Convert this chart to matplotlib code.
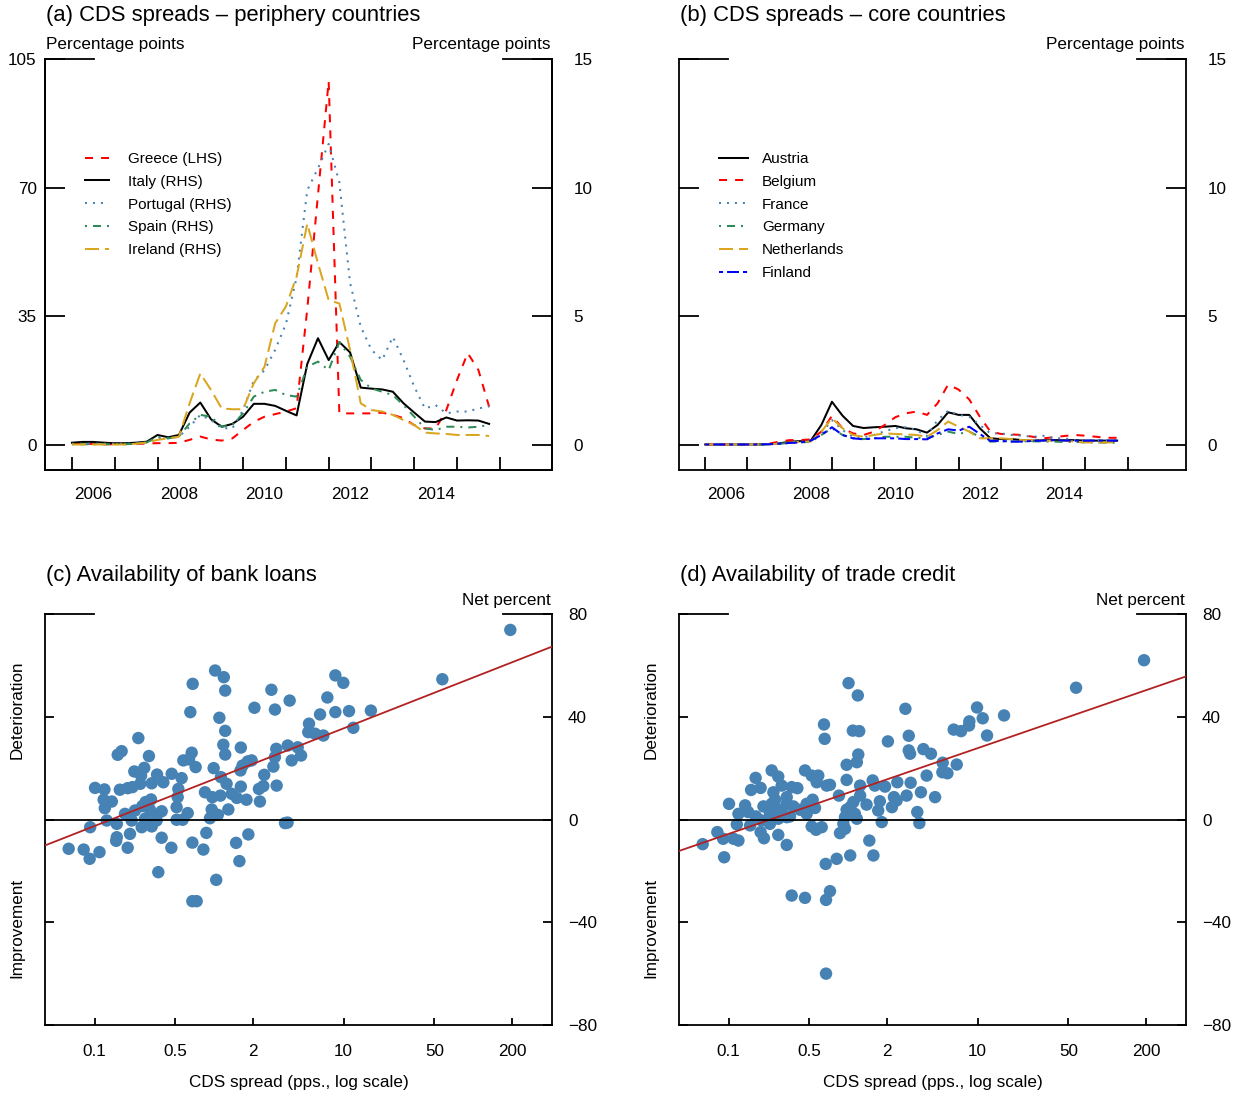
import numpy as np
import matplotlib
matplotlib.use('Agg')
import matplotlib.pyplot as plt
from matplotlib.ticker import NullLocator

plt.rcParams['font.family'] = ['Liberation Sans', 'DejaVu Sans']
plt.rcParams['lines.scale_dashes'] = False

# ---------------- data ----------------
quarters = np.arange(2006, 2016, 0.25)

# Panel (a) periphery (Greece on LHS, others on RHS), percentage points
greece = [0.3, 0.3, 0.3, 0.2, 0.2, 0.3, 0.3, 0.4, 0.5, 0.5, 0.6, 1.4, 2.3, 1.5, 1.2, 1.8,
          4.1, 6.3, 7.7, 8.4, 9.1, 10.0, 37.0, 68.0, 99.0, 8.6, 8.6, 8.6, 8.6, 8.8,
          8.2, 7.3, 5.4, 4.5, 4.5, 9.5, 17.7, 25.0, 20.4, 10.4]
italy = [0.09, 0.12, 0.12, 0.09, 0.07, 0.07, 0.09, 0.13, 0.39, 0.30, 0.39, 1.26, 1.65, 1.00,
         0.71, 0.82, 1.10, 1.60, 1.60, 1.52, 1.33, 1.15, 3.15, 4.15, 3.30, 4.00, 3.60, 2.23,
         2.19, 2.16, 2.07, 1.62, 1.26, 0.91, 0.89, 1.07, 0.95, 0.96, 0.95, 0.82]
portugal = [0.05, 0.05, 0.05, 0.05, 0.05, 0.05, 0.06, 0.10, 0.26, 0.26, 0.32, 0.71, 1.17, 0.97,
            0.65, 0.65, 1.36, 2.50, 2.90, 3.70, 4.70, 6.50, 9.90, 10.75, 11.70, 10.20, 6.30,
            4.60, 3.70, 3.30, 4.20, 3.30, 2.27, 1.42, 1.55, 1.23, 1.30, 1.30, 1.42, 1.50]
spain = [0.03, 0.03, 0.03, 0.03, 0.03, 0.03, 0.05, 0.10, 0.32, 0.26, 0.32, 0.84, 1.17, 1.10,
         0.71, 0.78, 1.23, 1.88, 2.07, 2.14, 1.94, 1.88, 3.04, 3.24, 2.91, 4.00, 3.43, 2.53,
         2.20, 2.07, 1.94, 1.55, 1.10, 0.65, 0.58, 0.71, 0.71, 0.68, 0.71, 0.78]
ireland = [0.02, 0.02, 0.02, 0.02, 0.02, 0.02, 0.05, 0.10, 0.20, 0.26, 0.32, 1.62, 2.78, 2.14,
           1.42, 1.39, 1.39, 2.40, 3.04, 4.73, 5.38, 6.54, 8.60, 7.06, 5.63, 5.50, 3.70, 1.62,
           1.36, 1.30, 1.17, 0.97, 0.78, 0.48, 0.45, 0.43, 0.39, 0.39, 0.39, 0.35]

# Panel (b) core countries, percentage points
austria = [0.02, 0.02, 0.02, 0.02, 0.02, 0.02, 0.03, 0.06, 0.13, 0.15, 0.17, 0.78, 1.68, 1.14,
           0.74, 0.66, 0.69, 0.71, 0.74, 0.65, 0.61, 0.48, 0.78, 1.27, 1.17, 1.17, 0.65, 0.26,
           0.23, 0.23, 0.19, 0.17, 0.19, 0.19, 0.19, 0.19, 0.17, 0.17, 0.17, 0.17]
belgium = [0.02, 0.02, 0.02, 0.02, 0.02, 0.03, 0.05, 0.13, 0.19, 0.19, 0.22, 0.52, 1.13, 0.65,
           0.45, 0.39, 0.52, 0.78, 1.08, 1.23, 1.30, 1.17, 1.62, 2.35, 2.15, 1.77, 1.10, 0.52,
           0.43, 0.41, 0.39, 0.32, 0.26, 0.30, 0.35, 0.39, 0.36, 0.32, 0.28, 0.28]
france = [0.02, 0.02, 0.02, 0.02, 0.02, 0.02, 0.03, 0.06, 0.10, 0.12, 0.15, 0.45, 0.97, 0.58,
          0.32, 0.30, 0.39, 0.54, 0.65, 0.69, 0.58, 0.35, 0.97, 1.33, 1.17, 1.10, 0.78, 0.45,
          0.45, 0.39, 0.36, 0.32, 0.36, 0.26, 0.26, 0.19, 0.17, 0.19, 0.17, 0.19]
germany = [0.02, 0.02, 0.02, 0.02, 0.02, 0.02, 0.03, 0.05, 0.08, 0.10, 0.12, 0.39, 0.65, 0.39,
           0.26, 0.23, 0.26, 0.32, 0.32, 0.32, 0.28, 0.26, 0.39, 0.52, 0.43, 0.52, 0.32, 0.13,
           0.14, 0.14, 0.14, 0.14, 0.14, 0.13, 0.12, 0.12, 0.10, 0.10, 0.09, 0.09]
netherlands = [0.02, 0.02, 0.02, 0.02, 0.02, 0.02, 0.03, 0.05, 0.10, 0.12, 0.14, 0.52, 1.04, 0.65,
               0.39, 0.32, 0.39, 0.45, 0.43, 0.41, 0.39, 0.32, 0.58, 0.91, 0.71, 0.52, 0.26, 0.26,
               0.26, 0.23, 0.19, 0.19, 0.17, 0.17, 0.17, 0.13, 0.10, 0.10, 0.10, 0.10]
finland = [0.02, 0.02, 0.02, 0.02, 0.02, 0.02, 0.03, 0.05, 0.08, 0.10, 0.17, 0.39, 0.69, 0.39,
           0.26, 0.22, 0.26, 0.26, 0.26, 0.23, 0.23, 0.22, 0.45, 0.61, 0.56, 0.71, 0.43, 0.16,
           0.16, 0.13, 0.13, 0.16, 0.17, 0.19, 0.17, 0.17, 0.17, 0.17, 0.17, 0.17]

# Panel (c) bank loans: CDS spread (pps) vs net percent
loans_cds = [1.02, 1.19, 0.685, 1.22, 2.77, 3.83, 2.05, 2.95, 0.657, 1.10,
             1.22, 0.261, 1.18, 1.61, 3.02, 3.70, 0.194, 0.181, 0.315, 0.673,
             1.22, 0.580, 0.642, 0.722, 0.994, 1.82, 1.95, 1.66, 1.60, 2.95,
             3.97, 2.87, 0.243, 0.290, 0.274, 0.364, 0.472, 0.563, 2.44, 0.331,
             0.407, 0.270, 1.13, 1.25, 0.121, 0.143, 0.188, 0.216, 0.235, 0.531,
             0.852, 1.61, 2.22, 2.40, 3.04, 0.141, 0.163, 0.144, 0.297, 0.327,
             0.525, 0.971, 1.12, 1.37, 1.50, 1.78, 2.26, 0.515, 0.280, 0.321,
             0.246, 0.206, 0.395, 0.361, 0.960, 1.07, 1.29, 0.627, 0.149, 0.178,
             0.232, 0.294, 0.361, 0.515, 0.573, 0.931, 0.111, 0.277, 0.331, 3.53,
             0.225, 0.873, 1.84, 0.178, 0.176, 0.395, 0.0758, 0.0989, 0.131, 0.110,
             0.216, 0.469, 0.681, 0.828, 1.48, 1.57, 0.372, 1.04, 0.681, 0.735,
             192.5, 57.6, 8.62, 9.93, 7.48, 6.57, 8.62, 10.99, 16.2, 5.40,
             5.33, 6.01, 6.97, 11.86, 4.42, 4.69, 3.69]
loans_net = [58.0, 55.4, 52.8, 50.2, 50.5, 46.3, 43.5, 42.8, 41.8, 39.6,
             34.5, 31.7, 29.1, 28.0, 27.5, 28.8, 26.6, 25.2, 24.7, 26.0,
             25.3, 23.0, 23.4, 20.4, 20.0, 22.6, 23.0, 21.0, 19.1, 24.3,
             23.0, 20.6, 18.7, 20.1, 17.1, 17.5, 17.8, 16.1, 17.4, 14.1,
             14.5, 13.9, 16.5, 13.9, 12.3, 11.7, 11.6, 12.2, 12.6, 11.9,
             10.6, 12.8, 11.9, 13.0, 13.2, 7.7, 7.0, 4.4, 6.8, 7.8,
             8.7, 8.7, 9.3, 10.0, 8.4, 7.7, 7.0, 4.8, 5.2, 3.8,
             3.5, 2.2, 3.2, 1.6, 3.9, 1.8, 3.9, 2.5, -0.4, -1.7,
             -0.4, 0.3, -0.4, -0.1, -0.1, 0.5, -3.0, -3.0, -2.7, -1.4,
             -5.6, -5.2, -5.8, -6.9, -8.3, -7.1, -11.4, -11.7, -12.7, -15.3,
             -11.0, -11.0, -9.0, -11.7, -9.1, -16.2, -20.5, -23.5, -31.8, -31.8,
             73.8, 54.6, 56.1, 53.2, 47.5, 40.9, 41.8, 42.2, 42.4, 37.3,
             34.0, 33.4, 32.7, 35.7, 28.1, 24.9, -1.2]
loans_fit = [15.7, 8.6]   # intercept, slope on ln(CDS spread)

# Panel (d) trade credit
trade_cds = [1.01, 1.19, 2.77, 0.653, 0.661, 1.09, 1.22, 2.03, 2.94, 1.20,
             1.17, 0.976, 2.94, 3.01, 3.81, 4.36, 0.258, 0.290, 0.466, 0.525,
             0.590, 0.574, 0.685, 0.726, 0.194, 0.179, 0.212, 0.266, 0.308, 0.368,
             0.407, 0.337, 0.274, 0.976, 1.24, 1.55, 1.61, 1.93, 2.40, 3.04,
             4.04, 0.852, 0.534, 0.480, 0.121, 0.161, 0.223, 0.258, 0.282, 0.337,
             0.379, 0.427, 0.557, 1.24, 1.10, 1.39, 1.76, 2.26, 2.83, 3.65,
             4.69, 2.18, 2.37, 0.143, 0.170, 0.195, 0.250, 0.308, 0.357, 0.480,
             0.976, 1.04, 0.948, 1.13, 1.71, 3.42, 0.139, 0.176, 0.216, 0.250,
             0.290, 0.337, 0.921, 1.17, 1.82, 3.55, 0.525, 0.567, 0.627, 0.868,
             0.948, 0.0983, 0.109, 0.131, 0.143, 0.212, 0.225, 0.290, 0.337, 0.0758,
             0.111, 1.46, 1.57, 0.818, 1.04, 0.673, 0.368, 0.466, 0.726, 0.677,
             0.677,
             191.5, 57.3, 9.88, 8.62, 8.57, 10.93, 15.96, 6.53, 7.44, 11.80,
             5.37, 6.89, 5.34, 5.84]
trade_net = [53.1, 48.3, 43.1, 37.0, 31.4, 34.6, 34.4, 30.4, 32.6, 25.3,
             22.3, 21.3, 26.9, 25.6, 27.4, 25.6, 19.1, 16.7, 19.1, 17.1,
             17.1, 14.5, 13.2, 13.5, 16.2, 11.5, 12.3, 10.6, 13.2, 12.6,
             12.2, 8.7, 7.7, 15.4, 13.2, 15.2, 13.2, 12.8, 14.5, 14.3,
             17.1, 9.3, 7.7, 6.1, 6.1, 5.5, 5.1, 6.1, 4.2, 6.1,
             5.1, 3.8, 4.5, 9.3, 6.8, 5.8, 7.1, 8.7, 9.3, 10.6,
             8.7, 4.8, 7.4, 2.2, 2.9, 1.2, 2.5, 3.2, 1.2, 2.2,
             3.8, 4.8, 0.9, 2.2, 3.5, 2.9, -1.9, -2.3, -0.4, -1.7,
             0.3, 0.9, -1.7, 0.3, -1.0, -1.4, -2.7, -4.0, -3.0, -5.3,
             -3.6, -4.9, -7.5, -7.5, -8.2, -4.9, -7.3, -6.0, -9.9, -9.6,
             -14.7, -8.2, -14.0, -15.3, -14.0, -17.3, -29.6, -30.5, -27.9, -31.3,
             -60.0,
             62.0, 51.3, 43.6, 38.2, 36.6, 39.4, 40.5, 35.0, 34.4, 32.7,
             22.1, 21.4, 18.4, 18.0]
trade_fit = [10.4, 7.55]

year_ticks = list(range(2006, 2017))
year_labels = ['2006', '2008', '2010', '2012', '2014']
log_ticks = [0.12, 0.5, 2, 10, 50, 200]
log_labels = ['0.1', '0.5', '2', '10', '50', '200']

# ---------------- styles ----------------
LW = 1.45
STY = {
    'solid': dict(linestyle='-'),
    'dashed': dict(linestyle=(0, (5.8, 5.8))),
    'dotted': dict(linestyle=(0, (1.44, 4.3))),
    'dotdash': dict(linestyle=(0, (1.44, 4.3, 5.8, 4.3))),
    'longdash': dict(linestyle=(0, (10.1, 4.3))),
    'twodash': dict(linestyle=(0, (2.9, 2.9, 8.6, 2.9))),
}
RED, BLUE, GREEN, GOLD, STEEL = '#FF0000', '#0000FF', '#2E8B57', '#DAA520', '#4682B4'
FS = 12.3

W, H = 1241, 1097
fig = plt.figure(figsize=(W / 100, H / 100), dpi=100)


def rect(l, t, r, b):
    return [l / W, 1 - b / H, (r - l) / W, (b - t) / H]


def frame(ax, lw=1.3):
    ax.spines['top'].set_visible(False)
    for s in ['left', 'right', 'bottom']:
        ax.spines[s].set_linewidth(lw)
    for xs in ([0, 0.096], [0.904, 1]):
        ax.plot(xs, [1, 1], transform=ax.transAxes, color='black', lw=lw,
                clip_on=False, solid_capstyle='projecting', zorder=5)


def time_axis(ax):
    ax.set_xlim(2005.37, 2017.22)
    ax.set_xticks(year_ticks)
    ax.set_xticklabels([])
    ax.set_xticks([int(y) + 0.5 for y in year_labels], minor=True)
    ax.set_xticklabels(year_labels, minor=True)
    ax.tick_params(axis='x', which='major', direction='in', length=9.4, width=1.3)
    ax.tick_params(axis='x', which='minor', length=0, pad=12, labelsize=FS)


LEG = dict(loc='upper left', bbox_to_anchor=(0.079, 0.774), frameon=False, fontsize=11,
           labelspacing=0.58, borderpad=0, borderaxespad=0)

# ---------------- panel (a) ----------------
axA = fig.add_axes(rect(45, 59, 552, 470))
axA2 = axA.twinx()
time_axis(axA)
axA.set_ylim(-6.8, 105)
axA2.set_ylim(-6.8 / 7, 15)
axA.set_yticks([0, 35, 70, 105])
axA2.set_yticks([0, 5, 10, 15])
axA.tick_params(axis='y', direction='in', length=14.5, width=1.3, labelsize=FS, pad=6)
axA2.tick_params(axis='y', direction='in', length=14.5, width=1.3, labelsize=FS, pad=15.5)
frame(axA)
axA2.spines['top'].set_visible(False)
for s in ['left', 'right', 'bottom']:
    axA2.spines[s].set_linewidth(1.3)

hA = []
hA += axA.plot(quarters, greece, color=RED, lw=LW, label='Greece (LHS)', **STY['dashed'])
hA += axA2.plot(quarters, italy, color='black', lw=LW, label='Italy (RHS)', **STY['solid'])
hA += axA2.plot(quarters, portugal, color=STEEL, lw=LW, label='Portugal (RHS)', **STY['dotted'])
hA += axA2.plot(quarters, spain, color=GREEN, lw=LW, label='Spain (RHS)', **STY['dotdash'])
hA += axA2.plot(quarters, ireland, color=GOLD, lw=LW, label='Ireland (RHS)', **STY['longdash'])
axA2.legend(handles=hA, handlelength=1.6, handletextpad=1.2, **LEG)

# ---------------- panel (b) ----------------
axB = fig.add_axes(rect(679, 59, 1186, 470))
time_axis(axB)
axB.set_xlim(2005.38, 2017.38)
axB.set_ylim(-6.8 / 7, 15)
axB.set_yticks([0, 5, 10, 15])
axB.tick_params(axis='y', direction='in', length=14.5, width=1.3, labelsize=FS, pad=15.5,
                left=True, right=True, labelleft=False, labelright=True)
frame(axB)
core = [('Austria', austria, 'black', 'solid'), ('Belgium', belgium, RED, 'dashed'),
        ('France', france, STEEL, 'dotted'), ('Germany', germany, GREEN, 'dotdash'),
        ('Netherlands', netherlands, GOLD, 'longdash'), ('Finland', finland, BLUE, 'twodash')]
for name, vals, col, st in core:
    axB.plot(quarters, vals, color=col, lw=LW, label=name, **STY[st])
axB.legend(handlelength=1.9, handletextpad=0.9, **LEG)

# ---------------- panels (c), (d) ----------------
def scatter_panel(ax, xs, ys, fit):
    ax.set_xscale('log')
    ax.set_xlim(np.exp(-3), np.exp(6))
    ax.set_ylim(-80, 80)
    ax.set_xticks(log_ticks)
    ax.set_xticklabels(log_labels)
    ax.xaxis.set_minor_locator(NullLocator())
    ax.set_yticks([-80, -40, 0, 40, 80])
    ax.set_yticklabels(['\u221280', '\u221240', '0', '40', '80'])
    ax.tick_params(axis='x', direction='in', length=5, width=1.3, labelsize=FS, pad=13.5)
    ax.tick_params(axis='y', direction='in', length=6.5, width=1.3, labelsize=FS, pad=11.5,
                   left=True, right=True, labelleft=False, labelright=True)
    frame(ax)
    ax.scatter(xs, ys, s=80, color=STEEL, edgecolors='none', zorder=3)
    xx = np.exp(np.linspace(-3, 6, 100))
    ax.plot(xx, fit[0] + fit[1] * np.log(xx), color='#B22222', lw=1.3, zorder=4)
    ax.axhline(0, color='black', lw=1.3, zorder=4)


axC = fig.add_axes(rect(45, 614, 552, 1025))
scatter_panel(axC, loans_cds, loans_net, loans_fit)
axD = fig.add_axes(rect(679, 614, 1186, 1025))
scatter_panel(axD, trade_cds, trade_net, trade_fit)

# ---------------- texts ----------------
def ftxt(x, y, s, **kw):
    kw.setdefault('fontsize', FS)
    kw.setdefault('va', 'center')
    fig.text(x / W, 1 - y / H, s, **kw)


ftxt(46, 15, '(a) CDS spreads \u2013 periphery countries', fontsize=15.8)
ftxt(680, 15, '(b) CDS spreads \u2013 core countries', fontsize=15.8)
ftxt(46, 576, '(c) Availability of bank loans', fontsize=15.8)
ftxt(680, 576, '(d) Availability of trade credit', fontsize=15.8)
ftxt(46, 44, 'Percentage points')
ftxt(551, 44, 'Percentage points', ha='right')
ftxt(1185, 44, 'Percentage points', ha='right')
ftxt(551, 601, 'Net percent', ha='right')
ftxt(1185, 601, 'Net percent', ha='right')
ftxt(298.5, 1083, 'CDS spread (pps., log scale)', ha='center')
ftxt(932.5, 1083, 'CDS spread (pps., log scale)', ha='center')
for xl in (17, 651):
    ftxt(xl, 710, 'Deterioration', ha='center', rotation=90)
    ftxt(xl, 928, 'Improvement', ha='center', rotation=90)

fig.savefig('out.png', dpi=100)
